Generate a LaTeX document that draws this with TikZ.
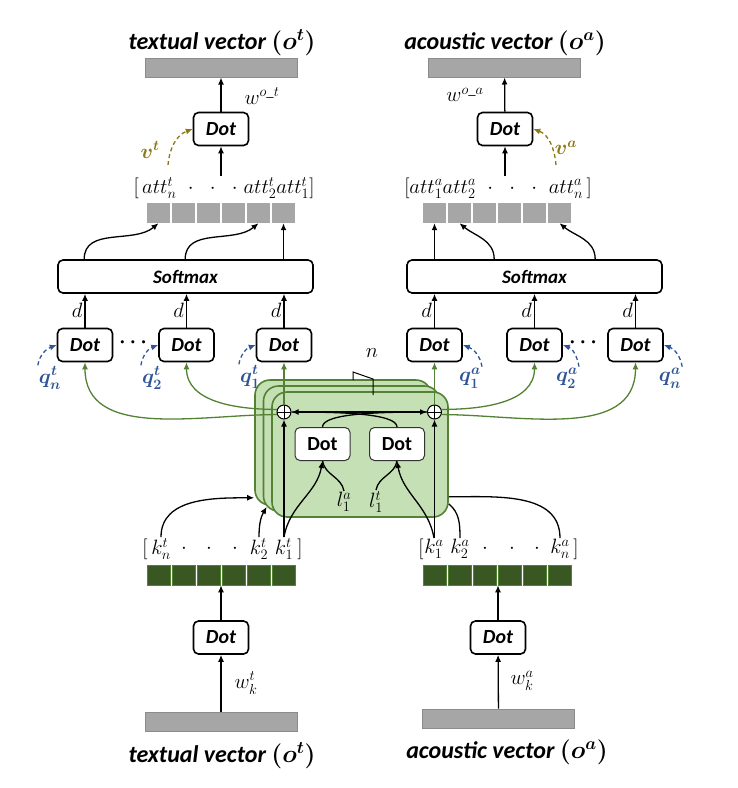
\documentclass[tikz,border=0pt]{standalone}
\usepackage{amsmath,bm}
\usepackage{fontspec}
\setmainfont{Carlito}
\usetikzlibrary{arrows.meta}

\definecolor{cellgray}{RGB}{166,166,166}
\definecolor{keygreen}{RGB}{56,87,35}
\definecolor{layergreen}{RGB}{197,224,180}
\definecolor{edgegreen}{RGB}{84,130,53}
\definecolor{qblue}{RGB}{47,85,151}
\definecolor{volive}{RGB}{140,120,20}

\tikzset{
  arr/.style={-{Latex[length=7pt,width=6pt]},line width=1.3pt},
  garr/.style={arr,draw=edgegreen},
  qarr/.style={arr,draw=qblue,dash pattern=on 4pt off 3pt},
  varr/.style={arr,draw=volive,dash pattern=on 4pt off 3pt},
  dotbox/.style={draw,line width=1.6pt,rounded corners=5pt,fill=white,minimum width=55pt,
    minimum height=33pt,inner sep=0pt,font=\fontsize{20}{22}\selectfont\bfseries\itshape},
  innerdot/.style={dotbox,draw=black!80,line width=1pt,font=\fontsize{20}{22}\selectfont\bfseries},
  softbox/.style={dotbox,minimum width=255pt,font=\fontsize{19}{21}\selectfont\bfseries\itshape},
  bar/.style={draw=black!45,fill=cellgray,line width=1pt,minimum width=152pt,minimum height=19pt,inner sep=0pt},
  attcell/.style={fill=cellgray,minimum width=23pt,minimum height=20pt,inner sep=0pt},
  keycell/.style={draw=edgegreen,fill=keygreen,line width=0.6pt,minimum width=23pt,minimum height=20pt,inner sep=0pt},
  layer/.style={draw=edgegreen,fill=layergreen,line width=1.6pt,rounded corners=15pt,
    minimum width=176pt,minimum height=125pt},
  oplus/.style={circle,draw,fill=white,line width=1pt,minimum size=14pt,inner sep=0pt,
    path picture={\draw (path picture bounding box.north) -- (path picture bounding box.south)
      (path picture bounding box.west) -- (path picture bounding box.east);}},
  vectitle/.style={font=\fontsize{24}{26}\selectfont\bfseries\itshape\boldmath},
  mlbl/.style={inner sep=1pt,font=\fontsize{21}{23}\selectfont},
  qlbl/.style={inner sep=1pt,font=\fontsize{20}{22}\selectfont\boldmath,text=qblue},
  vlbl/.style={inner sep=1pt,font=\fontsize{20}{22}\selectfont\boldmath,text=volive},
}

\begin{document}
\begin{tikzpicture}[x=1pt,y=-1pt]
\useasboundingbox (0,0) rectangle (738,788);

% stacked layers
\node[layer] (lay0) at (343,442.5) {};
\node[layer] (lay1) at (351.5,448.5) {};
\node[layer] (lay2) at (360,454.5) {};
\draw[line width=1pt] (353,380) -- (353,372) -- (373,379) -- (373,395);
\node[mlbl] (nlbl) at (372,353) {$n$};
\node[oplus] (tplus) at (284,412) {};
\node[oplus] (aplus) at (434.5,412) {};
\node[innerdot] (ltdot) at (322.5,444) {Dot};
\node[innerdot] (atdot) at (397,444) {Dot};
\node[mlbl] (l1a) at (344,502) {$l_1^a$};
\node[mlbl] (l1t) at (376,502) {$l_1^t$};

% textual side, top
\node[vectitle] (ttitle) at (222,43) {textual vector $(\bm{o}^t)$};
\node[bar] (tout) at (221,67.5) {};
\node[dotbox] (tvdot) at (221,129) {Dot};
\node[mlbl] (twlbl) at (262,96) {$w^{o\_t}$};
\node[vlbl] (tvlbl) at (150,150) {$v^t$};
\coordinate (tvfrom) at (168,165);
\node[mlbl] (tattlbl) at (224,188) {$[\,att_n^t\;\;{\cdot}\enspace\;{\cdot}\enspace\;{\cdot}\;att_2^t att_1^t]$};
\foreach \i in {0,...,5} \node[attcell] (ta\i) at (158.5+25*\i,213) {};
\node[softbox] (tsoft) at (185.5,276.5) {Softmax};
\node[dotbox] (tdotn) at (85,345) {Dot};
\node[dotbox] (tdot2) at (186.5,345) {Dot};
\node[dotbox] (tdot1) at (284,345) {Dot};
\node[mlbl] (tdots) at (135,343) {$\boldsymbol{\cdots}$};
\node[qlbl] (tqn) at (50,378) {$q_n^t$};
\node[qlbl] (tq2) at (152,378) {$q_2^t$};
\node[qlbl] (tq1) at (250,377) {$q_1^t$};

% acoustic side, top
\node[vectitle] (atitle) at (505,43) {acoustic vector $(\bm{o}^a)$};
\node[bar] (aout) at (504.5,67.5) {};
\node[dotbox] (avdot) at (505,129) {Dot};
\node[mlbl] (awlbl) at (465,95) {$w^{o\_a}$};
\node[vlbl] (avlbl) at (566,148) {$v^a$};
\coordinate (avfrom) at (556,165);
\node[mlbl] (aattlbl) at (498,188) {$[att_1^a att_2^a\;\;{\cdot}\enspace\;{\cdot}\enspace\;{\cdot}\;\;att_n^a\,]$};
\foreach \i in {0,...,5} \node[attcell] (aa\i) at (434.5+25*\i,213) {};
\node[softbox] (asoft) at (534.5,276.5) {Softmax};
\node[dotbox] (adot1) at (434.5,345) {Dot};
\node[dotbox] (adot2) at (534.5,345) {Dot};
\node[dotbox] (adotn) at (635.5,345) {Dot};
\node[mlbl] (adots) at (585,343) {$\boldsymbol{\cdots}$};
\node[qlbl] (aq1) at (470,378) {$q_1^a$};
\node[qlbl] (aq2) at (567,378) {$q_2^a$};
\node[qlbl] (aqn) at (670,378) {$q_n^a$};

% keys, bottom
\node[mlbl] (tkl) at (145,549) {$[$};
\node[mlbl] (tkn) at (161,549) {$k_n^t$};
\foreach \x [count=\j] in {184,209,235} \node[mlbl] (tkd\j) at (\x,549) {$\cdot$};
\node[mlbl] (tk2) at (259,549) {$k_2^t$};
\node[mlbl] (tk1) at (284,549) {$k_1^t$};
\node[mlbl] (tkr) at (300,549) {$]$};
\foreach \i in {0,...,5} \node[keycell] (tkey\i) at (158.5+25*\i,575) {};
\node[dotbox] (tkdot) at (221,637.5) {Dot};
\node[mlbl] (twk) at (246,683) {$w_k^t$};
\node[bar] (tin) at (221,721.5) {};
\node[vectitle] (tbtitle) at (222,756) {textual vector $(\bm{o}^t)$};

\node[mlbl] (akl) at (421,549) {$[$};
\node[mlbl] (ak1) at (434,549) {$k_1^a$};
\node[mlbl] (ak2) at (460,549) {$k_2^a$};
\foreach \x [count=\j] in {485,512,537} \node[mlbl] (akd\j) at (\x,549) {$\cdot$};
\node[mlbl] (akn) at (560,549) {$k_n^a$};
\node[mlbl] (akr) at (576,549) {$]$};
\foreach \i in {0,...,5} \node[keycell] (akey\i) at (434.5+25*\i,575) {};
\node[dotbox] (akdot) at (498,637.5) {Dot};
\node[mlbl] (awk) at (522,681) {$w_k^a$};
\node[bar] (ain) at (498.5,718.5) {};
\node[vectitle] (abtitle) at (507,752) {acoustic vector $(\bm{o}^a)$};

% connectors, top
\draw[arr] (tvdot) -- (tout);
\draw[arr] (tattlbl.north -| tvdot) -- (tvdot);
\draw[varr] (tvfrom) to[out=85,in=200] (tvdot.west);
\draw[arr] (avdot) -- (aout);
\draw[arr] (aattlbl.north -| avdot) -- (avdot);
\draw[varr] (avfrom) to[out=95,in=-20] (avdot.east);

\draw[arr] ([xshift=27pt]tsoft.north west) to[out=90,in=-140] (ta0.south);
\draw[arr] ([xshift=128pt]tsoft.north west) to[out=90,in=-140] (ta4.south);
\draw[arr] (tsoft.north -| ta5) -- (ta5.south);
\draw[arr] (asoft.north -| aa0) -- (aa0.south);
\draw[arr] ([xshift=88pt]asoft.north west) to[out=90,in=-40] (aa1.south);
\draw[arr] ([xshift=189pt]asoft.north west) to[out=90,in=-40] (aa5.south);

\foreach \n in {tdotn,tdot2,tdot1,adot1,adot2,adotn}
  \draw[arr] (\n) -- (\n |- tsoft.south) node[midway,left=1pt,mlbl] {$d$};

\draw[qarr] (tqn.north west) to[out=80,in=200] (tdotn.west);
\draw[qarr] (tq2.north west) to[out=80,in=200] (tdot2.west);
\draw[qarr] (tq1.north west) to[out=80,in=200] (tdot1.west);
\draw[qarr] (aq1.north east) to[out=100,in=-20] (adot1.east);
\draw[qarr] (aq2.north east) to[out=100,in=-20] (adot2.east);
\draw[qarr] (aqn.north east) to[out=100,in=-20] (adotn.east);

% connectors, centre
\draw[{Latex[length=7pt,width=6pt]}-{Latex[length=7pt,width=6pt]},line width=1.3pt] (tplus) -- (aplus);
\draw[line width=1.3pt] (ltdot.north) .. controls +(0,-14) and +(-45,0) .. (aplus.west);
\draw[line width=1.3pt] (atdot.north) .. controls +(0,-14) and +(45,0) .. (tplus.east);
\draw[garr] (tplus.north) -- (tdot1.south);
\draw[garr] (aplus.north) -- (adot1.south);
\draw[garr] (tplus.160) to[out=180,in=-90] (tdot2.south);
\draw[garr] (tplus.200) to[out=180,in=-90] (tdotn.south);
\draw[garr] (aplus.20) to[out=0,in=-90] (adot2.south);
\draw[garr] (aplus.-20) to[out=0,in=-90] (adotn.south);

% connectors, bottom
\draw[arr] (tk1.north) -- (tplus.south);
\draw[arr] (ak1.north -| aplus) -- (aplus.south);
\draw[arr] (tkn.north) to[out=90,in=180] ([yshift=8pt]lay0.south west);
\draw[arr] (tk2.north) to[out=90,in=-120] ([xshift=4pt,yshift=5pt]lay1.south west);
\draw[line width=1.3pt] (ak2.north) to[out=90,in=-40] ([yshift=14pt]lay2.south east);
\draw[line width=1.3pt] (akn.north) to[out=90,in=0] ([yshift=21pt]lay2.south east);
\draw[arr] (tk1.north) to[out=80,in=-100] (ltdot.south);
\draw[line width=1.3pt] (l1a.north) to[out=100,in=-80] (ltdot.south);
\draw[arr] (ak1.north) to[out=100,in=-80] (atdot.south);
\draw[line width=1.3pt] (l1t.north) to[out=80,in=-100] (atdot.south);

\draw[arr] (tkdot.north) -- (tkdot.north |- tkey0.south);
\draw[arr] (tin) -- (tkdot);
\draw[arr] (akdot.north) -- (akdot.north |- akey0.south);
\draw[arr] (ain) -- (akdot);
\end{tikzpicture}
\end{document}
